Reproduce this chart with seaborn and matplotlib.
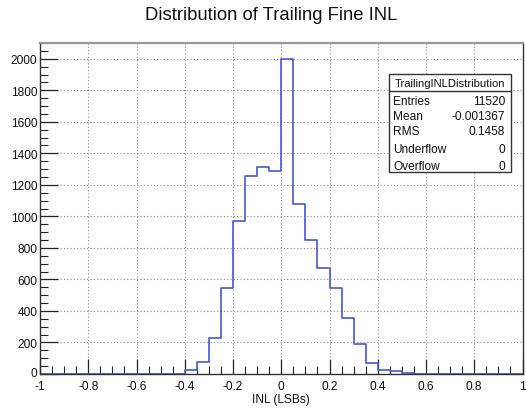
import numpy as np
import pandas as pd
import seaborn as sns
import matplotlib
matplotlib.use("Agg")
import matplotlib.pyplot as plt
import matplotlib.transforms as mtransforms
from matplotlib.patches import Rectangle
from matplotlib.lines import Line2D
from matplotlib.ticker import MultipleLocator

# Histogram contents: 40 bins of width 0.05 over [-1, 1]
bin_edges = [round(-1.0 + 0.05 * i, 3) for i in range(41)]
bin_counts = [0, 0, 0, 0, 0, 0, 0, 0, 0, 0,
              0, 3, 23, 76, 227, 548, 970, 1255, 1315, 1290,
              2000, 1078, 847, 670, 546, 358, 191, 68, 27, 17,
              8, 2, 0, 0, 0, 0, 0, 0, 0, 0]

stat_names = ["Entries", "Mean", "RMS", "Underflow", "Overflow"]
stat_values = ["11520", "-0.001367", "0.1458", "0", "0"]
hist_name = "TrailingINLDistribution"

title = "Distribution of Trailing Fine INL"
x_label = "INL (LSBs)"
x_ticks = [-1, -0.8, -0.6, -0.4, -0.2, 0, 0.2, 0.4, 0.6, 0.8, 1]
x_tick_labels = ["-1", "-0.8", "-0.6", "-0.4", "-0.2", "0",
                 "0.2", "0.4", "0.6", "0.8", "1"]

sns.set_theme(style="white")
plt.rcParams["font.family"] = ["Liberation Sans", "DejaVu Sans"]

W, H = 526, 410
fig = plt.figure(figsize=(W / 100, H / 100), dpi=100)
fig.patch.set_facecolor("white")

def fx(px):
    return px / W

def fy(py):
    return 1 - py / H

ax = fig.add_axes([fx(40), fy(375), fx(522.5) - fx(40), fy(44) - fy(375)])

centers = [(a + b) / 2 for a, b in zip(bin_edges[:-1], bin_edges[1:])]
df = pd.DataFrame({"inl": centers, "count": bin_counts})
sns.histplot(data=df, x="inl", weights="count", bins=bin_edges,
             element="step", fill=False, color="#4e5ecf", linewidth=1.25, ax=ax)

ax.set_xlim(-1, 1)
ax.set_ylim(0, 2100)
ax.xaxis.set_minor_locator(MultipleLocator(0.05))
ax.yaxis.set_major_locator(MultipleLocator(200))
ax.yaxis.set_minor_locator(MultipleLocator(50))
ax.set_xticks(x_ticks)
ax.set_xticklabels(x_tick_labels)

ax.tick_params(axis="both", which="both", direction="in", colors="#222222",
               labelcolor="#111111", labelsize=8.6)
ax.tick_params(axis="x", which="major", length=11, width=0.9, pad=4)
ax.tick_params(axis="x", which="minor", length=6, width=0.8)
ax.tick_params(axis="y", which="major", length=13, width=0.9, pad=2)
ax.tick_params(axis="y", which="minor", length=6, width=0.8)
ax.tick_params(bottom=True, left=True, top=False, right=False, which="both")

# Lift the "0" count label a little so it clears the "-1" below it
fig.canvas.draw()
for lbl in ax.get_yticklabels():
    if lbl.get_text() == "0":
        lbl.set_transform(lbl.get_transform() +
                          mtransforms.ScaledTranslation(0, 2.5 / 100, fig.dpi_scale_trans))

ax.grid(True, which="major", linestyle=(0, (1, 2)), color="#8a8a8a", linewidth=0.8)
ax.set_axisbelow(True)
for side, sp in ax.spines.items():
    sp.set_color("#333333")
    sp.set_linewidth(1.0)
ax.spines["top"].set_color("#999999")
ax.spines["top"].set_linewidth(1.6)

ax.set_xlabel(x_label, fontsize=8.6, labelpad=1, color="#111111")
ax.xaxis.set_label_coords(0.5, -0.058)
ax.set_ylabel("")

fig.text(fx(271), fy(15.5), title, fontsize=13.3, ha="center", va="center",
         color="#111111")

# Statistics box
bx0, bx1, by0, by1 = 389, 511, 75, 173
fig.patches.append(Rectangle((fx(bx0), fy(by1)), fx(bx1) - fx(bx0), fy(by0) - fy(by1),
                             transform=fig.transFigure, facecolor="white",
                             edgecolor="#333333", linewidth=1.0, zorder=5))
fig.lines.append(Line2D([fx(bx0), fx(bx1)], [fy(92), fy(92)],
                        transform=fig.transFigure, color="#333333",
                        linewidth=1.0, zorder=6))
fig.text(fx((bx0 + bx1) / 2), fy(84), hist_name, fontsize=8.1,
         ha="center", va="center", zorder=7, color="#111111")
row_y = [102, 117.5, 132, 150, 166.5]
for name, val, yy in zip(stat_names, stat_values, row_y):
    fig.text(fx(bx0 + 4), fy(yy), name, fontsize=8.6, ha="left", va="center",
             zorder=7, color="#111111")
    fig.text(fx(bx1 - 6), fy(yy), val, fontsize=8.6, ha="right", va="center",
             zorder=7, color="#111111")

fig.savefig("out.png", dpi=100)
